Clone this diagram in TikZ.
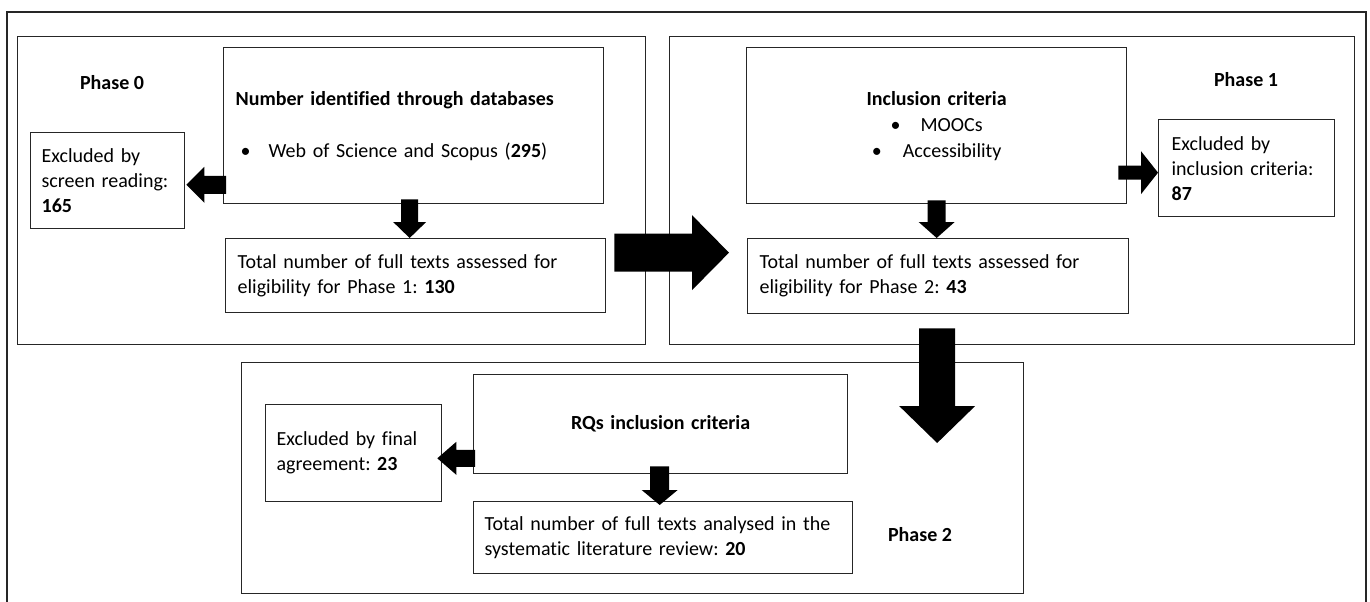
\documentclass[tikz,border=0pt]{standalone}
\usepackage{fontspec}
\setmainfont{Carlito}[Ligatures=CommonOff]
\usetikzlibrary{calc}
\frenchspacing
\newcommand\bodyfont{\fontsize{20}{25}\selectfont}
\definecolor{linec}{HTML}{262626}
\newcommand\blockarrow[5]{%
  \fill[arrowfill] let \p1=(#1), \p2=(#2),
     \n1={scalar(atan2(\y2-\y1,\x2-\x1))},
     \n2={scalar(veclen(\x2-\x1,\y2-\y1))-#5} in
   ($(\p1)+({\n1+90}:{#3 pt})$)
   -- ($(\p1)+({\n1}:{\n2 pt})+({\n1+90}:{#3 pt})$)
   -- ($(\p1)+({\n1}:{\n2 pt})+({\n1+90}:{#4 pt})$)
   -- (\p2)
   -- ($(\p1)+({\n1}:{\n2 pt})+({\n1-90}:{#4 pt})$)
   -- ($(\p1)+({\n1}:{\n2 pt})+({\n1-90}:{#3 pt})$)
   -- ($(\p1)+({\n1-90}:{#3 pt})$) -- cycle;
}
\tikzset{
  phasebox/.style={draw=linec, line width=1.3pt, inner sep=0pt, anchor=north west},
  box/.style={draw=linec, line width=1.3pt, inner ysep=0pt, anchor=north west, align=left, font=\bodyfont},
  cbox/.style={box, align=center},
  lbl/.style={font=\bodyfont\bfseries, inner sep=0pt},
  arrowfill/.style={fill=black},
  outer/.style={draw=linec, line width=1.3pt}
}
\begin{document}
\begin{tikzpicture}[x=1pt,y=-1pt]
\useasboundingbox (0,0) rectangle (1370,602);
\fill[white] (0,0) rectangle (1370,602);
% outer frame (open at the bottom)
\draw[outer] (7,602) -- (7,12) -- (1366,12) -- (1366,602);
% phase frames
\node[phasebox, minimum width=628pt, minimum height=308pt] (p0) at (17,36) {};
\node[phasebox, minimum width=685pt, minimum height=308pt] (p1) at (669,36) {};
\node[phasebox, minimum width=782pt, minimum height=231pt] (p2) at (241,362) {};
% phase labels
\node[lbl] (ph0) at (112,83) {Phase 0};
\node[lbl] (ph1) at (1246,80) {Phase 1};
\node[lbl] (ph2) at (920,535) {Phase 2};
% phase 0
\node[box, inner xsep=12pt, text width=356pt, minimum height=156pt] (db) at (223,47)
  {\textbf{Number identified through databases}\\[27pt]\hspace*{5pt}\makebox[28pt][l]{•}Web of Science and Scopus (\textbf{295})};
\node[box, inner xsep=11pt, text width=132pt, minimum height=96pt] (ex1) at (30,132)
  {Excluded by\\screen reading:\\\textbf{165}};
\node[box, inner xsep=12pt, text width=356pt, minimum height=74pt] (t130) at (225,238)
  {Total number of full texts assessed for\\eligibility for Phase 1: \textbf{130}};
% phase 1
\node[cbox, inner xsep=12pt, text width=356pt, minimum height=156pt] (inc) at (746,47)
  {\textbf{Inclusion criteria}\\[1pt]\makebox[30pt][l]{•}MOOCs\\[1pt]\makebox[31pt][l]{•}Accessibility};
\node[box, inner xsep=13pt, text width=150pt, minimum height=97pt] (ex2) at (1158,119)
  {Excluded by\\inclusion criteria:\\\textbf{87}};
\node[box, inner xsep=12pt, text width=357pt, minimum height=75pt] (t43) at (747,238)
  {Total number of full texts assessed for\\eligibility for Phase 2: \textbf{43}};
% phase 2
\node[cbox, inner xsep=12pt, text width=350pt, minimum height=99pt] (rq) at (473,374)
  {\textbf{RQs inclusion criteria}};
\node[box, inner xsep=11pt, text width=154pt, minimum height=97pt] (ex3) at (265,404)
  {Excluded by final\\agreement: \textbf{23}};
\node[box, inner xsep=11pt, text width=357pt, minimum height=72pt] (t20) at (473,501)
  {Total number of full texts analysed in the\\systematic literature review: \textbf{20}};
% arrows
\coordinate (a1s) at ($(db.south west)+(3,-19.5)$);
\coordinate (a1e) at ($(ex1.east |- a1s)+(1,0)$);
\blockarrow{a1s}{a1e}{9}{18}{18}
\coordinate (a2s) at ($(db.south)+(-4,-5)$);
\coordinate (a2e) at (a2s |- t130.north);
\blockarrow{a2s}{a2e}{8.5}{16.5}{16}
\coordinate (a3s) at ($(t130.east)+(8,-23)$);
\coordinate (a3e) at ($(t43.west |- a3s)+(-18,0)$);
\blockarrow{a3s}{a3e}{19}{37.5}{37}
\coordinate (a4s) at ($(inc.south)+(0,-4)$);
\coordinate (a4e) at (a4s |- t43.north);
\blockarrow{a4s}{a4e}{9}{18}{16}
\coordinate (a5s) at ($(inc.east)+(-9,47)$);
\coordinate (a5e) at (ex2.west |- a5s);
\blockarrow{a5s}{a5e}{7}{21.5}{17}
\coordinate (a6s) at ($(t43.south)+(-1,14)$);
\coordinate (a6e) at ($(a6s |- p2.north)+(0,81)$);
\blockarrow{a6s}{a6e}{18}{38}{37}
\coordinate (a7s) at ($(rq.south west)+(2,-16)$);
\coordinate (a7e) at ($(ex3.east |- a7s)+(-5,0)$);
\blockarrow{a7s}{a7e}{8.5}{16.5}{19}
\coordinate (a8s) at ($(rq.south)+(-1,-8)$);
\coordinate (a8e) at ($(a8s |- t20.north)+(0,4)$);
\blockarrow{a8s}{a8e}{9.5}{18}{15}
\end{tikzpicture}
\end{document}
